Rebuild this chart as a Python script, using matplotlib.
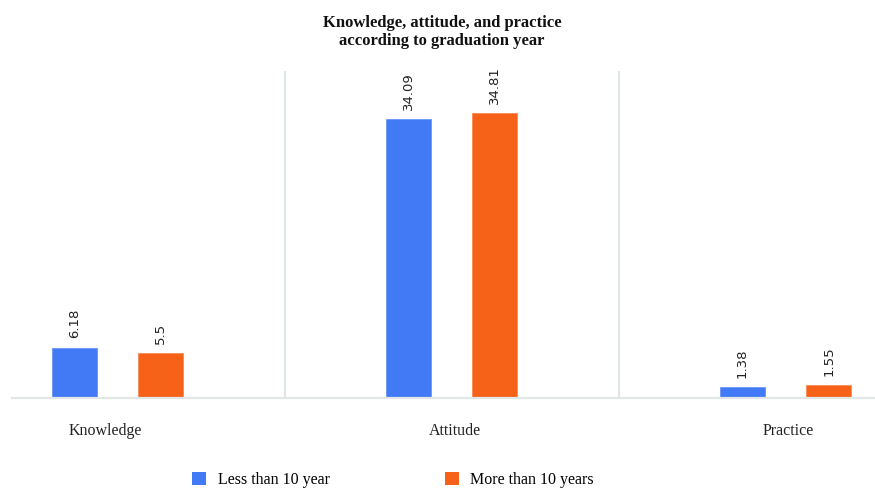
import matplotlib.pyplot as plt
import numpy as np
from matplotlib.patches import Patch

# chart data
categories = ["Knowledge", "Attitude", "Practice"]
series_names = ["Less than 10 year", "More than 10 years"]
less_than_10 = [6.18, 34.09, 1.38]
more_than_10 = [5.5, 34.81, 1.55]
value_labels_less = ["6.18", "34.09", "1.38"]
value_labels_more = ["5.5", "34.81", "1.55"]

blue = "#4279f4"
orange = "#f66218"
grid_col = "#e1e6e6"

plt.rcParams["font.family"] = ["Liberation Serif", "DejaVu Serif"]

fig = plt.figure(figsize=(8.75, 4.92), dpi=100)
ax = fig.add_axes([0.0137, 0.191, 0.9863, 0.6647])

x = np.arange(len(categories))
w = 0.135
off = 0.129
b1 = ax.bar(x - off, less_than_10, width=w, color=blue, edgecolor="#6a97f7", linewidth=0.6)
b2 = ax.bar(x + off, more_than_10, width=w, color=orange, edgecolor="#f88a52", linewidth=0.6)

for bars, labels in ((b1, value_labels_less), (b2, value_labels_more)):
    for r, lab in zip(bars, labels):
        ax.annotate(lab, (r.get_x() + r.get_width() / 2, r.get_height()),
                    xytext=(0, 6.5), textcoords="offset points", rotation=90,
                    ha="center", va="bottom", fontsize=9.5,
                    family=["DejaVu Sans"], color="#222222")

ax.set_xlim(-0.316, 2.268)
ax.set_ylim(0, 40)

# group separators
for sx in (0.5, 1.5):
    ax.axvline(sx, color=grid_col, lw=1.6, zorder=0)

for s in ("top", "right", "left"):
    ax.spines[s].set_visible(False)
ax.spines["bottom"].set_color(grid_col)
ax.spines["bottom"].set_linewidth(1.6)
ax.set_yticks([])
ax.set_xticks(x + np.array([-0.037, 0.01, 0.009]))
ax.set_xticklabels(categories, fontsize=11.5, color="#222222")
ax.tick_params(axis="x", length=0, pad=18)

fig.text(0.505, 0.9695, "Knowledge, attitude, and practice\naccording to graduation year",
         ha="center", va="top", fontsize=12, fontweight="bold",
         linespacing=1.2, color="#111111")

handles = [Patch(facecolor=blue), Patch(facecolor=orange)]
fig.legend(handles, series_names, loc="center left",
           bbox_to_anchor=(192 / 875, 12 / 492), ncol=2, frameon=False,
           fontsize=11.5, handlelength=0.9, handleheight=0.9,
           handletextpad=0.7, columnspacing=7.2, borderpad=0, borderaxespad=0)

fig.savefig("out.png", dpi=100)
